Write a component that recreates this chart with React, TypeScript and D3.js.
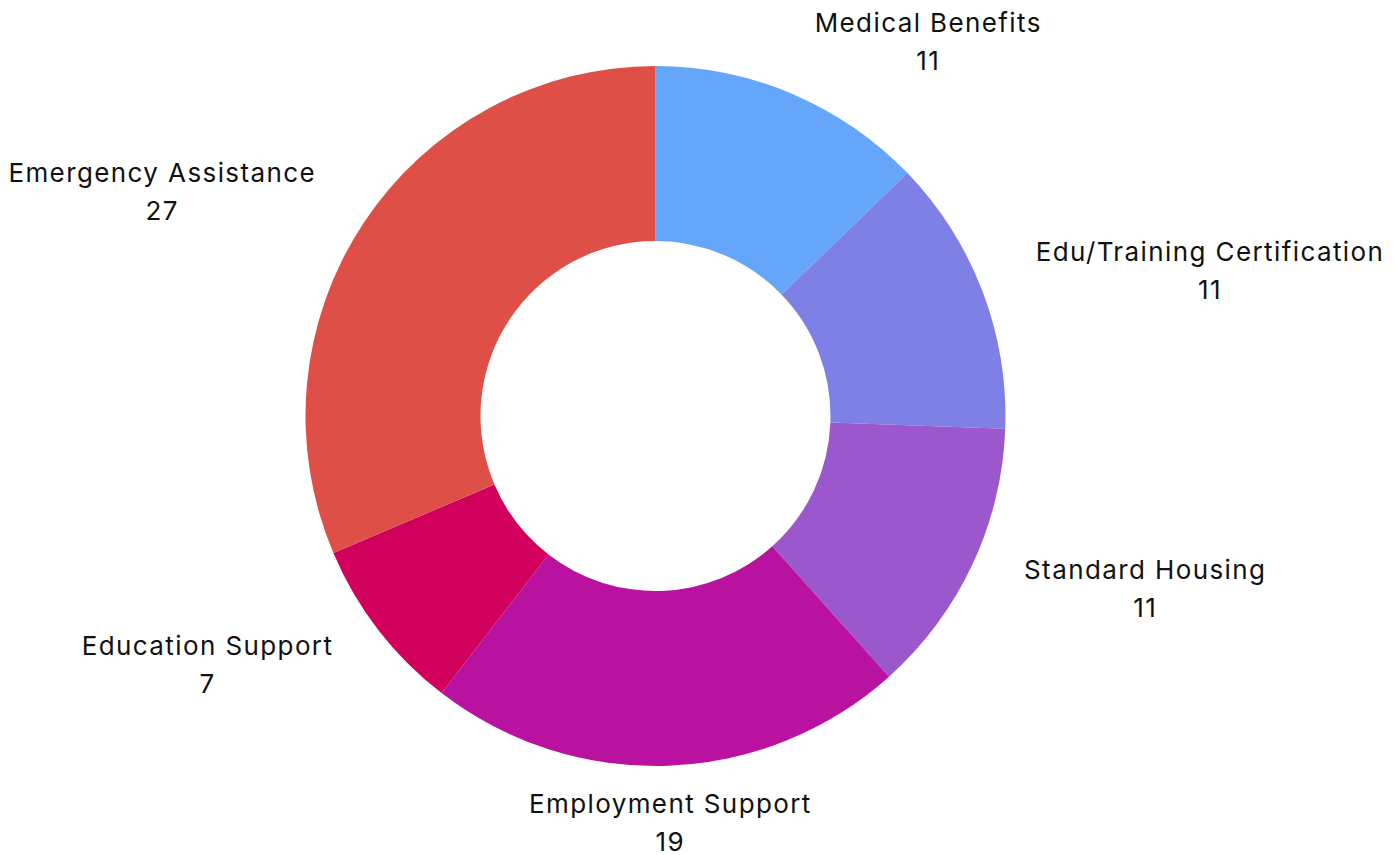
import React, { useEffect, useRef } from "react";
import * as d3 from "d3";

const categories = [
  "Medical Benefits",
  "Edu/Training Certification",
  "Standard Housing",
  "Employment Support",
  "Education Support",
  "Emergency Assistance",
];
const values = [11, 11, 11, 19, 7, 27];
const colors = ["#66A6FA", "#7F80E6", "#9A58CC", "#BA12A0", "#D0005C", "#DE5047"];

const W = 1395;
const H = 855;

export default function App() {
  const ref = useRef<SVGSVGElement>(null);
  useEffect(() => {
    const svg = d3.select(ref.current);
    svg.selectAll("*").remove();
    const cx = 655.5;
    const cy = 416;
    const outerR = 350;
    const innerR = 175;
    const labelR = 407;
    const data = categories.map((c, i) => ({ name: c, value: values[i], color: colors[i] }));
    const pie = d3.pie<any>().sort(null).value((d) => d.value);
    const arcs = pie(data);
    const arc = d3.arc<any>().innerRadius(innerR).outerRadius(outerR);
    const g = svg.append("g").attr("transform", `translate(${cx},${cy})`);
    g.selectAll("path")
      .data(arcs)
      .enter()
      .append("path")
      .attr("d", arc as any)
      .attr("fill", (d: any) => d.data.color);

    const lg = svg
      .append("g")
      .attr("transform", `translate(${cx},${cy})`)
      .attr("font-family", "Inter, sans-serif")
      .attr("font-size", 26)
      .attr("letter-spacing", 1.4)
      .attr("fill", "#111");
    arcs.forEach((a: any) => {
      const mid = (a.startAngle + a.endAngle) / 2;
      const s = Math.sin(mid);
      const c = Math.cos(mid);
      const ax = labelR * s;
      const ay = -labelR * c;
      const grp = lg.append("g");
      const t1 = grp
        .append("text")
        .text(a.data.name)
        .attr("text-anchor", "middle")
        .attr("dominant-baseline", "central")
        .attr("y", ay - 19);
      const t2 = grp
        .append("text")
        .text(String(a.data.value))
        .attr("text-anchor", "middle")
        .attr("dominant-baseline", "central")
        .attr("y", ay + 19);
      const w = Math.max(
        (t1.node() as SVGTextElement).getComputedTextLength(),
        (t2.node() as SVGTextElement).getComputedTextLength()
      );
      let centerX = ax;
      if (s > 0.1) centerX = ax + w / 2;
      else if (s < -0.1) centerX = ax - w / 2;
      t1.attr("x", centerX);
      t2.attr("x", centerX);
    });
  }, []);
  return (
    <svg
      ref={ref}
      width={W}
      height={H}
      style={{ position: "absolute", left: 0, top: 0 }}
    />
  );
}
